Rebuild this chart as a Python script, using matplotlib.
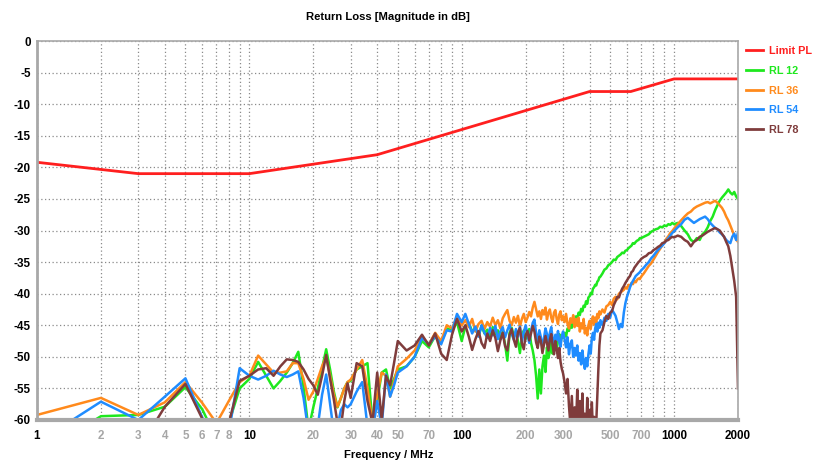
import matplotlib
matplotlib.use("Agg")
import matplotlib.pyplot as plt
from matplotlib.ticker import NullLocator
from matplotlib.lines import Line2D
from matplotlib.font_manager import FontProperties

# ---------------- data ----------------
freq = ([1, 2, 3, 4, 5, 6, 7, 8, 9, 10, 11, 12, 13, 14, 15, 16, 17, 18, 19, 20,
         21, 22, 23, 24, 25, 26, 27, 28, 29, 30] +
        [32, 34, 36, 38, 40, 42, 44, 46, 48, 50] +
        [55, 60, 65, 70, 75, 80, 85, 90, 95, 100] +
        [104, 108, 112, 116, 120, 124, 128, 132, 136, 140, 144, 148, 152, 156, 160, 164, 168,
         172, 176, 180, 184, 188, 192, 196, 200, 204, 208, 212, 216, 220, 224, 228, 232, 236,
         240, 244, 248, 252, 256, 260, 264, 268, 272, 276, 280, 284, 288, 292, 296, 300] +
        [305, 310, 315, 320, 325, 330, 335, 340, 345, 350, 355, 360, 365, 370, 375, 380, 385,
         390, 395, 400, 405, 410, 415, 420, 425, 430, 435, 440, 445, 450] +
        [460, 470, 480, 490, 500, 510, 520, 530, 540, 550, 560, 570, 580, 590, 600, 610, 620,
         630, 640, 650, 660, 670, 680, 690, 700] +
        [720, 740, 760, 780, 800, 820, 840, 860, 880, 900, 920, 940, 960, 980, 1000] +
        [1040, 1080, 1120, 1160, 1200, 1240, 1280, 1320, 1360, 1400, 1440, 1480, 1520,
         1560, 1600, 1640, 1680, 1720, 1760, 1800, 1840, 1880, 1920, 1960, 2000])

limit_freq = [1, 3, 10, 40, 400, 625, 1000, 2000]
limit_val = [-19.2, -21.0, -21.0, -18.0, -8.0, -8.0, -6.0, -6.0]

rl12 = ([-65.6, -59.4, -59.2, -57.9, -54.8, -58.3, -63.0, -60.5, -55.0, -53.5, -50.8, -53.0, -55.0, -53.8, -52.5,
         -51.0, -49.2, -54.8, -61.5, -58.0, -55.0, -51.8, -48.8, -52.0, -55.5, -58.0, -56.5, -55.0, -54.0, -53.8] +
        [-52.0, -51.5, -51.0, -60.5, -57.0, -52.5, -52.0, -55.0, -53.5, -52.0] +
        [-51.5, -50.0, -47.5, -48.5, -46.7, -47.8, -45.5, -45.8, -44.5, -47.5] +
        [-45.2, -44.6, -46.0, -45.4, -46.7, -45.1, -46.3, -45.7, -47.0, -45.3,
         -46.4, -45.8, -47.2, -46.0, -48.0, -50.6, -46.2, -45.4, -46.8, -46.0,
         -47.5, -49.4, -46.6, -45.8, -47.2, -46.4, -45.6, -47.8, -49.0, -50.5,
         -53.0, -56.6, -52.0, -55.8, -51.5, -49.8, -52.4, -48.5, -50.2, -49.2,
         -47.6, -49.5, -48.0, -47.2, -48.8, -47.5, -46.4, -47.8, -46.6, -47.0] +
        [-46.2, -46.8, -45.5, -45.9, -44.8, -45.4, -44.2, -44.7, -43.6, -44.0,
         -43.0, -43.4, -42.4, -42.8, -41.9, -42.1, -41.2, -41.6, -40.6, -40.4,
         -39.9, -40.1, -39.2, -39.0, -38.6, -38.7, -38.1, -37.9, -37.4, -37.3] +
        [-36.8, -36.2, -36.0, -35.5, -35.3, -35.0, -34.6, -34.7, -34.2, -34.0, -33.8, -33.5, -33.6,
         -33.2, -33.1, -32.8, -32.6, -32.4, -32.0, -32.1, -31.8, -31.6, -31.5, -31.2, -31.2] +
        [-31.0, -30.8, -30.6, -30.2, -30.0, -29.8, -29.7, -29.4, -29.5, -29.2, -29.3, -29.0, -29.1, -28.8, -29.0] +
        [-28.8, -29.3, -30.0, -30.6, -31.5, -31.8, -31.2, -31.5, -30.6, -30.2, -29.5, -28.5, -27.8, -26.8, -26.0,
         -25.3, -24.8, -24.4, -24.0, -23.5, -24.0, -24.3, -23.9, -24.6, -25.0])

rl36 = ([-59.2, -56.5, -59.2, -57.2, -54.0, -57.3, -60.5, -57.0, -54.0, -53.0, -49.8, -51.2, -52.5, -52.5, -52.3,
         -51.0, -51.0, -53.5, -56.8, -55.5, -53.5, -51.5, -50.0, -53.0, -56.0, -57.9, -56.5, -55.0, -54.0, -53.6] +
        [-52.0, -50.5, -55.0, -60.5, -56.0, -52.5, -53.0, -56.3, -54.0, -51.5] +
        [-50.3, -49.0, -46.8, -48.0, -46.2, -47.5, -45.0, -45.5, -43.6, -45.0] +
        [-44.2, -45.3, -44.0, -46.0, -44.8, -44.3, -45.6, -44.5, -45.2, -43.8,
         -45.0, -44.2, -45.5, -43.9, -43.2, -42.6, -44.3, -45.0, -43.7, -44.6,
         -43.5, -45.2, -44.0, -43.2, -44.5, -43.8, -42.9, -43.6, -42.2, -41.3,
         -42.5, -43.6, -42.8, -44.0, -42.6, -43.3, -42.2, -44.1, -43.0, -42.5,
         -43.8, -44.5, -43.0, -42.6, -44.0, -44.8, -43.3, -42.8, -44.2, -43.6] +
        [-44.5, -43.2, -44.8, -45.5, -43.9, -44.6, -43.4, -45.3, -44.0, -45.1,
         -43.8, -46.0, -44.7, -45.5, -44.0, -46.3, -45.4, -46.6, -45.0, -44.3,
         -45.6, -44.2, -43.6, -44.9, -43.8, -44.5, -43.2, -43.9, -42.8, -43.3] +
        [-42.5, -43.0, -42.0, -41.8, -41.3, -41.8, -40.8, -40.5, -40.9, -40.0, -39.8, -39.6, -39.4,
         -39.0, -39.2, -38.6, -38.8, -38.3, -38.5, -38.0, -38.2, -37.8, -37.6, -37.7, -37.3] +
        [-36.8, -36.2, -35.6, -35.2, -34.6, -34.0, -33.4, -32.9, -32.3, -31.9, -31.3, -30.9, -30.4, -30.1, -29.7] +
        [-29.0, -28.4, -27.8, -27.3, -27.0, -26.5, -26.2, -26.0, -25.8, -25.6, -25.5, -25.7, -25.5, -25.3, -25.6,
         -26.0, -26.4, -27.0, -27.8, -28.4, -29.2, -30.0, -30.8, -31.4, -31.8])

rl54 = ([-63.6, -57.1, -60.0, -56.3, -53.4, -59.6, -64.0, -62.0, -51.8, -53.0, -53.6, -53.0, -52.2, -52.8, -53.2,
         -52.8, -52.3, -56.5, -62.0, -64.0, -61.0, -56.0, -52.8, -57.5, -62.0, -61.0, -58.4, -57.5, -58.0, -57.5] +
        [-55.5, -54.0, -61.0, -62.0, -57.0, -61.0, -52.8, -56.3, -54.5, -52.5] +
        [-51.5, -50.0, -47.0, -48.0, -46.8, -48.0, -45.8, -46.0, -43.2, -44.5] +
        [-43.2, -44.8, -46.3, -45.2, -46.8, -45.0, -46.2, -47.0, -45.4, -46.6,
         -45.1, -47.2, -46.0, -45.3, -46.9, -45.8, -44.9, -46.4, -47.3, -45.6,
         -46.8, -45.2, -47.6, -46.1, -45.0, -46.5, -47.8, -45.9, -44.6, -44.1,
         -46.3, -47.5, -45.8, -46.9, -48.6, -47.0, -45.5, -46.4, -47.8, -46.2,
         -45.3, -47.1, -48.2, -46.5, -47.4, -45.9, -47.6, -48.4, -46.7, -46.0] +
        [-47.2, -48.5, -46.9, -49.6, -48.0, -47.4, -50.0, -48.6, -49.8, -48.2,
         -50.6, -49.4, -51.2, -49.0, -50.8, -51.9, -50.2, -51.5, -49.6, -48.2,
         -49.5, -47.0, -46.2, -47.3, -45.5, -44.8, -46.0, -44.6, -45.4, -44.2] +
        [-45.0, -43.8, -44.3, -43.2, -43.8, -42.6, -43.0, -43.5, -44.5, -45.6, -44.8, -45.3, -43.0,
         -41.5, -40.5, -39.8, -39.0, -38.4, -38.0, -37.6, -37.2, -37.0, -36.8, -36.6, -36.3] +
        [-35.9, -35.4, -35.0, -34.4, -34.0, -33.5, -33.1, -32.7, -32.4, -32.0, -31.6, -31.2, -30.8, -30.4, -30.1] +
        [-29.5, -29.0, -28.3, -28.0, -28.4, -28.8, -28.5, -28.2, -28.0, -27.8, -28.2, -28.8, -29.2, -29.6, -29.8,
         -30.3, -30.6, -31.0, -31.5, -31.8, -32.0, -31.0, -30.5, -31.5, -30.3])

rl78 = ([-67.0, -66.0, -64.7, -57.9, -54.3, -59.8, -65.0, -60.5, -53.8, -53.0, -52.0, -51.8, -53.0, -51.5, -50.4,
         -50.5, -50.8, -52.0, -53.5, -54.5, -56.0, -53.0, -49.7, -53.5, -56.8, -60.5, -61.0, -57.0, -54.2, -56.5] +
        [-51.0, -51.5, -57.0, -60.5, -52.5, -60.0, -53.0, -54.5, -51.0, -47.5] +
        [-49.0, -48.2, -46.5, -48.2, -46.3, -49.5, -50.5, -46.5, -44.0, -46.0] +
        [-45.0, -46.8, -48.9, -47.2, -45.9, -47.8, -48.6, -46.3, -47.5, -45.8,
         -47.0, -49.1, -47.4, -46.2, -48.3, -49.0, -46.5, -45.6, -47.3, -48.4,
         -46.1, -45.4, -47.9, -48.8, -46.6, -45.9, -47.4, -46.3, -45.1, -46.0,
         -47.7, -48.6, -46.8, -47.5, -49.4, -48.0, -46.7, -47.9, -49.0, -47.3,
         -46.4, -48.2, -49.6, -47.5, -48.8, -50.2, -48.6, -50.8, -51.9, -52.6] +
        [-54.0, -55.8, -53.5, -57.8, -60.8, -56.2, -62.0, -58.0, -61.5, -55.2,
         -63.0, -57.0, -61.2, -55.8, -62.5, -59.0, -63.0, -56.5, -61.8, -58.4,
         -63.0, -57.2, -62.0, -59.5, -63.0, -60.5, -56.0, -52.0, -48.2, -46.3] +
        [-45.8, -44.5, -43.5, -44.0, -43.0, -42.8, -41.8, -41.2, -40.5, -40.6, -39.8, -39.2, -38.8,
         -38.3, -37.9, -37.5, -37.2, -36.6, -36.4, -35.9, -35.6, -35.3, -35.0, -34.8, -34.5] +
        [-34.2, -34.0, -33.6, -33.5, -33.1, -32.9, -32.6, -32.4, -32.0, -31.9, -31.6, -31.5, -31.2, -31.0, -31.1] +
        [-30.8, -31.0, -31.5, -31.8, -32.5, -31.8, -31.5, -31.0, -30.8, -30.5, -30.2, -30.0, -29.8, -29.6, -29.8,
         -30.0, -30.5, -31.0, -31.8, -32.5, -34.0, -36.0, -38.0, -40.5, -55.0])

series_names = ["Limit PL", "RL 12", "RL 36", "RL 54", "RL 78"]
series_colors = ["#ff1f1f", "#1ee81e", "#ff8a1c", "#1f8cff", "#7f3c3c"]

x_ticks = [1, 2, 3, 4, 5, 6, 7, 8, 9, 10, 20, 30, 40, 50, 60, 70, 80, 90,
           100, 200, 300, 400, 500, 600, 700, 800, 900, 1000, 2000]
x_labeled = [1, 2, 3, 4, 5, 6, 7, 8, 10, 20, 30, 40, 50, 70, 100, 200, 300, 500, 700, 1000, 2000]
x_black = [1, 10, 100, 1000, 2000]
y_ticks = [0, -5, -10, -15, -20, -25, -30, -35, -40, -45, -50, -55, -60]

# ---------------- figure ----------------
FONT = dict(family=["Liberation Sans", "DejaVu Sans"], weight="bold")
W, H = 816, 463
fig = plt.figure(figsize=(W / 100, H / 100), dpi=100)
ax = fig.add_axes([37 / W, 1 - 420 / H, (738 - 37) / W, (420 - 41) / H])

ax.set_xscale("log")
ax.set_xlim(1, 2000)
ax.set_ylim(-60, 0)

ax.plot(limit_freq, limit_val, color=series_colors[0], lw=2.0, label=series_names[0])
for vals, name, col in zip([rl12, rl36, rl54, rl78], series_names[1:], series_colors[1:]):
    ax.plot(freq, vals, color=col, lw=1.8, label=name)

ax.xaxis.set_minor_locator(NullLocator())
ax.set_xticks(x_ticks)
ax.set_xticklabels([str(t) if t in x_labeled else "" for t in x_ticks])
for t, lab in zip(x_ticks, ax.get_xticklabels()):
    lab.set_color("black" if t in x_black else "#a6a6a6")
    lab.set_fontproperties(FontProperties(size=8.4, **FONT))
ax.set_yticks(y_ticks)
ax.set_yticklabels([str(t) for t in y_ticks])
for lab in ax.get_yticklabels():
    lab.set_fontproperties(FontProperties(size=8.4, **FONT))

ax.tick_params(axis="both", length=0)
ax.tick_params(axis="x", pad=7)
ax.tick_params(axis="y", pad=4.5)

ax.grid(True, which="major", color="#8a8a8a", linestyle=(0, (1, 2)), linewidth=0.9)
ax.set_axisbelow(True)

for side in ["top", "right"]:
    ax.spines[side].set_color("#a8a8a8")
    ax.spines[side].set_linewidth(1.2)
ax.spines["left"].set_color("#a8a8a8")
ax.spines["left"].set_linewidth(2.0)
ax.spines["bottom"].set_color("#a8a8a8")
ax.spines["bottom"].set_linewidth(3.0)

fig.text(387.5 / W, 1 - 17 / H, "Return Loss [Magnitude in dB]", ha="center", va="center",
         fontsize=8.1, **FONT)
fig.text(388.5 / W, 1 - 455 / H, "Frequency / MHz", ha="center", va="center",
         fontsize=8.1, **FONT)

handles = [Line2D([], [], color=c, lw=2.0) for c in series_colors]
leg = ax.legend(handles, series_names, loc="upper left",
                bbox_to_anchor=(745.5 / W, 1 - 46 / H), bbox_transform=fig.transFigure,
                frameon=False, handlelength=1.65, handletextpad=0.52, labelspacing=0.9,
                borderpad=0, borderaxespad=0,
                prop=FontProperties(size=7.8, **FONT))
for txt, c in zip(leg.get_texts(), series_colors):
    txt.set_color(c)

fig.savefig("out.png", dpi=100)
